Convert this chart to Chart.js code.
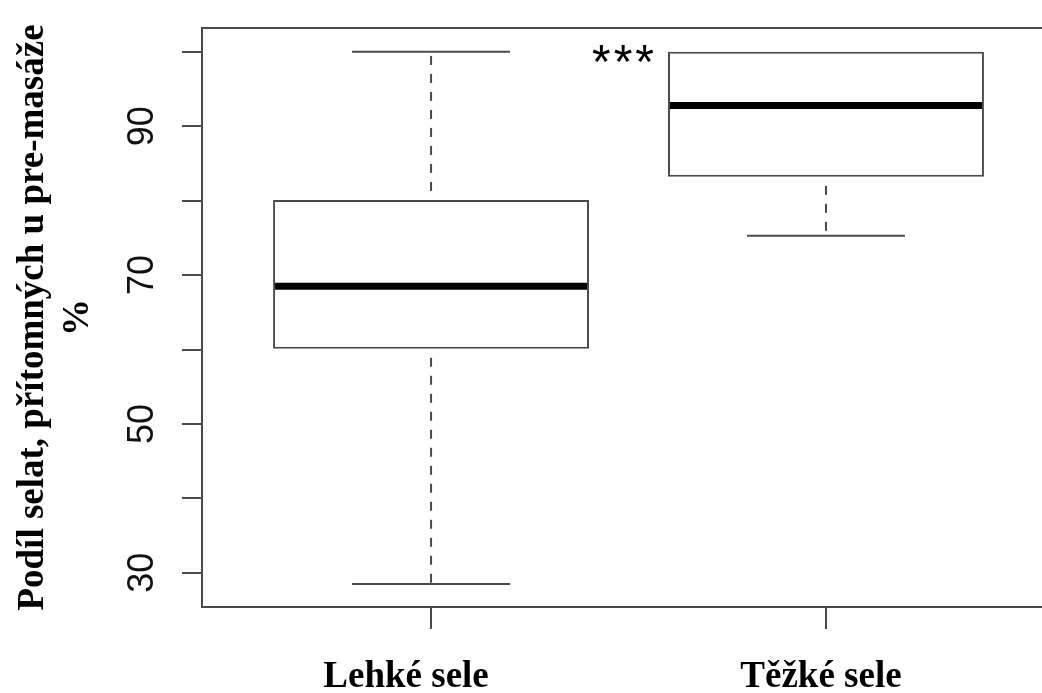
<!DOCTYPE html>
<html>
<head>
<meta charset="utf-8">
<script src="https://cdn.jsdelivr.net/npm/chart.js@4"></script>
<style>
  html, body { margin: 0; padding: 0; background: #fff; }
  #wrap { width: 1042px; height: 693px; }
</style>
</head>
<body>
<div id="wrap"><canvas id="BoxChart" width="1042" height="693"></canvas></div>
<script>
// hodnoty
var categories = ['Lehké sele', 'Těžké sele']
var whiskerLow = [28.5, 75.3]
var q1 = [60.1, 83.2]
var median = [68.5, 92.8]
var q3 = [80.1, 100]
var whiskerHigh = [100, 100]
var yTicks = [30, 40, 50, 60, 70, 80, 90, 100]
var yTickLabels = [30, 50, 70, 90]
var yTitle = ['Podíl selat, přítomných u pre-masáže', '%']
var signif = '***'

var lineColor = '#4a4a4a'

var boxPlotPlugin = {
    id: 'boxPlotPlugin',
    afterDatasetsDraw: function (chart) {
        var ctx = chart.ctx
        var x = chart.scales.x
        var y = chart.scales.y
        ctx.save()
        for (var i = 0; i < categories.length; i++) {
            var pos = i + 1
            var cx = x.getPixelForValue(pos)
            var capL = x.getPixelForValue(pos - 0.2)
            var capR = x.getPixelForValue(pos + 0.2)
            ctx.strokeStyle = lineColor
            ctx.lineWidth = 2
            // upper whisker + cap (skipped when it sits on the box edge)
            if (whiskerHigh[i] > q3[i]) {
                ctx.setLineDash([9, 9])
                ctx.lineDashOffset = 9
                ctx.beginPath()
                ctx.moveTo(cx, y.getPixelForValue(q3[i]))
                ctx.lineTo(cx, y.getPixelForValue(whiskerHigh[i]))
                ctx.stroke()
                ctx.setLineDash([])
                ctx.beginPath()
                ctx.moveTo(capL, y.getPixelForValue(whiskerHigh[i]))
                ctx.lineTo(capR, y.getPixelForValue(whiskerHigh[i]))
                ctx.stroke()
            }
            // lower whisker + cap
            if (whiskerLow[i] < q1[i]) {
                ctx.setLineDash([9, 9])
                ctx.lineDashOffset = 9
                ctx.beginPath()
                ctx.moveTo(cx, y.getPixelForValue(q1[i]))
                ctx.lineTo(cx, y.getPixelForValue(whiskerLow[i]))
                ctx.stroke()
                ctx.setLineDash([])
                ctx.beginPath()
                ctx.moveTo(capL, y.getPixelForValue(whiskerLow[i]))
                ctx.lineTo(capR, y.getPixelForValue(whiskerLow[i]))
                ctx.stroke()
            }
            // median
            ctx.strokeStyle = '#000'
            ctx.lineWidth = 7
            ctx.beginPath()
            ctx.moveTo(x.getPixelForValue(pos - 0.4) + 2, y.getPixelForValue(median[i]))
            ctx.lineTo(x.getPixelForValue(pos + 0.4) - 2, y.getPixelForValue(median[i]))
            ctx.stroke()
        }
        ctx.restore()
    },
    afterDraw: function (chart) {
        var ctx = chart.ctx
        var area = chart.chartArea
        var x = chart.scales.x
        var y = chart.scales.y
        ctx.save()
        // top frame line
        ctx.strokeStyle = lineColor
        ctx.lineWidth = 2
        ctx.beginPath()
        ctx.moveTo(area.left, area.top)
        ctx.lineTo(area.right, area.top)
        ctx.stroke()

        // y tick labels (rotated, like R)
        ctx.fillStyle = '#111'
        ctx.font = '36px "Liberation Sans", Arial, sans-serif'
        ctx.textAlign = 'center'
        ctx.textBaseline = 'alphabetic'
        for (var v of yTickLabels) {
            ctx.save()
            ctx.translate(153, y.getPixelForValue(v))
            ctx.rotate(-Math.PI / 2)
            ctx.fillText(String(v), 0, 0)
            ctx.restore()
        }

        // y title (two lines)
        ctx.fillStyle = '#000'
        ctx.font = 'bold 37px "Liberation Serif", "Times New Roman", serif'
        var midY = (area.top + area.bottom) / 2
        var baseX = [43, 88]
        for (var k = 0; k < yTitle.length; k++) {
            ctx.save()
            ctx.translate(baseX[k], midY)
            ctx.rotate(-Math.PI / 2)
            ctx.fillText(yTitle[k], 0, 0)
            ctx.restore()
        }

        // x category labels
        ctx.font = 'bold 37px "Liberation Serif", "Times New Roman", serif'
        for (var i = 0; i < categories.length; i++) {
            ctx.fillText(categories[i], x.getPixelForValue(i + 1) - (i == 0 ? 25 : 5), 687)
        }

        // significance stars left of the second box
        ctx.font = '48px "Liberation Sans", Arial, sans-serif'
        ctx.letterSpacing = '3px'
        ctx.textAlign = 'right'
        ctx.fillText(signif, x.getPixelForValue(2 - 0.4) - 11, y.getPixelForValue(100) + 26)
        ctx.restore()
    }
}

var config_Box = {
    type: 'bar',
    data: {
        datasets: [{
            label: 'IQR',
            data: categories.map(function (c, i) { return { x: i + 1, y: [q1[i], q3[i]] } }),
            backgroundColor: '#ffffff',
            borderColor: lineColor,
            borderWidth: 2,
            borderSkipped: false,
            barPercentage: 0.8,
            categoryPercentage: 1.0
        }]
    },
    options: {
        responsive: false,
        animation: false,
        layout: { padding: { top: 28, left: 0, right: 0, bottom: 0 } },
        plugins: {
            legend: { display: false },
            tooltip: { enabled: false },
            title: { display: false }
        },
        scales: {
            x: {
                type: 'linear',
                offset: false,
                min: 0.42,
                max: 2.547,
                afterBuildTicks: function (axis) {
                    axis.ticks = categories.map(function (c, i) { return { value: i + 1 } })
                },
                afterFit: function (axis) { axis.height = 86 },
                ticks: { display: false },
                grid: {
                    offset: false,
                    drawOnChartArea: false,
                    drawTicks: true,
                    tickLength: 22,
                    color: lineColor,
                    lineWidth: 2
                },
                border: { display: true, color: lineColor, width: 2 }
            },
            y: {
                min: 25.4,
                max: 103.2,
                afterBuildTicks: function (axis) {
                    axis.ticks = yTicks.map(function (v) { return { value: v } })
                },
                afterFit: function (axis) { axis.width = 202 },
                ticks: { display: false },
                grid: {
                    drawOnChartArea: false,
                    drawTicks: true,
                    tickLength: 20,
                    color: lineColor,
                    lineWidth: 2
                },
                border: { display: true, color: lineColor, width: 2 }
            }
        }
    },
    plugins: [boxPlotPlugin]
}

var BoxChartElement = document.getElementById('BoxChart').getContext('2d')
new Chart(BoxChartElement, config_Box)
</script>
</body>
</html>
